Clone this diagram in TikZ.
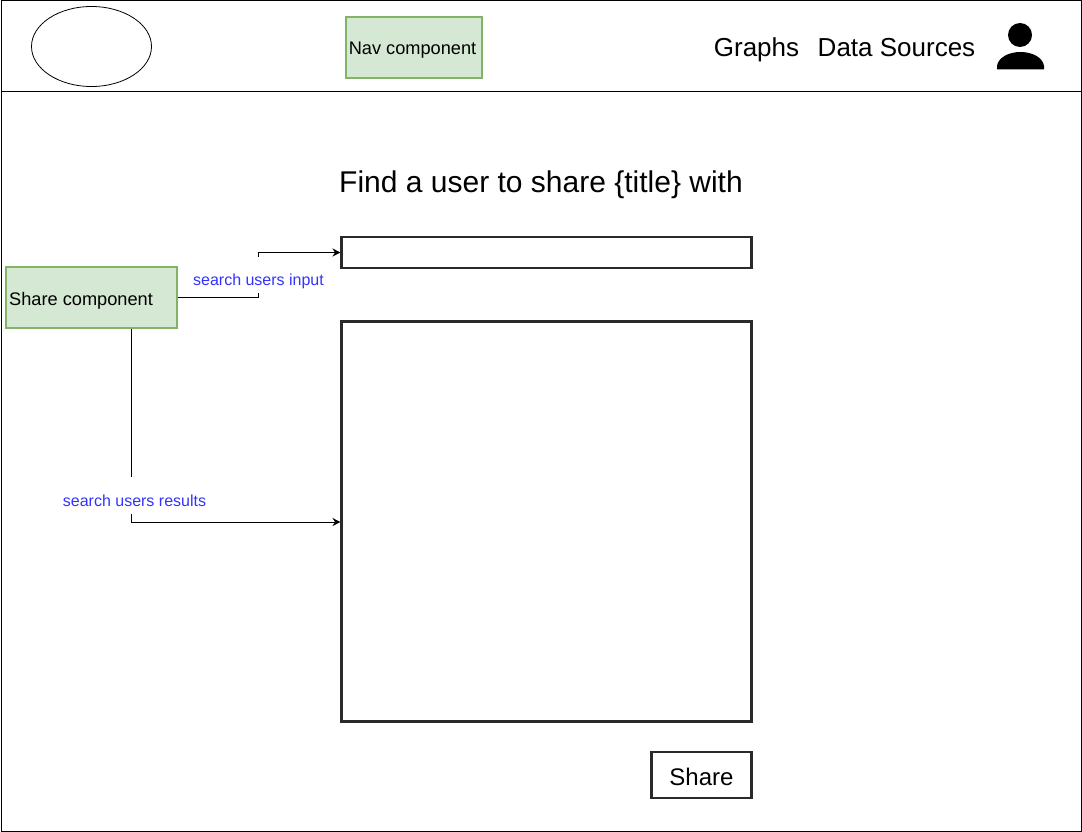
\documentclass[tikz,border=0pt]{standalone}
\usepackage{fontspec}
\setmainfont{Liberation Sans}
\usetikzlibrary{arrows.meta,shapes.geometric}
\definecolor{compfill}{HTML}{D5E8D4}
\definecolor{compline}{HTML}{82B366}
\definecolor{linkblue}{HTML}{3333FF}
\definecolor{boxline}{HTML}{2A2A2A}
\tikzset{
  comp/.style={draw=compline,fill=compfill,line width=2.2pt,rectangle,inner sep=0pt,text=black},
  wire/.style={draw=black,line width=0.85pt,-{Stealth[length=8pt,width=8pt]}},
  wirelabel/.style={anchor=base,fill=white,inner xsep=0pt,inner ysep=0pt,text=linkblue,font=\fontsize{16}{19}\selectfont},
  uibox/.style={draw=boxline,line width=2.05pt,rectangle,inner sep=0pt},
  big/.style={inner sep=0pt,text=black,font=\fontsize{26}{31}\selectfont},
}
\begin{document}
\begin{tikzpicture}[x=1pt,y=-1pt]
\useasboundingbox (0,0) rectangle (1082,832);
\node[draw=black,line width=1pt,minimum width=1080pt,minimum height=830pt,inner sep=0pt] (frame) at (541,416) {};
\coordinate (navleft) at (1,91.5);
\coordinate (navright) at (1081,91.5);
\draw[line width=1pt] (navleft) -- (navright);
\node[draw=black,line width=0.8pt,ellipse,minimum width=120pt,minimum height=80pt,inner sep=0pt] (logo) at (91.5,46.5) {};
\node[comp,minimum width=135.5pt,minimum height=60.5pt] (nav) at (414,47.5) {};
\node[inner sep=0pt,font=\fontsize{18.2}{22}\selectfont,anchor=base] (navtext) at (412.5,55) {Nav component};
\node[big,anchor=base] (graphs) at (756.5,57) {Graphs};
\node[big,anchor=base] (sources) at (896.5,57) {Data Sources};
\fill[black] (1020,35) circle (12);
\fill[black] (997,69.5) -- (997,66) .. controls (998,58) and (1008,52) .. (1020.5,52) .. controls (1033,52) and (1043,58) .. (1044,66) -- (1044,69.5) -- cycle;
\node[inner sep=0pt,anchor=base,text=black,font=\fontsize{30}{36}\selectfont] (title) at (541,193) {Find a user to share \{title\} with};
\node[uibox,minimum width=410pt,minimum height=30.5pt] (input) at (546.5,252.5) {};
\node[uibox,minimum width=410pt,minimum height=400pt] (results) at (546.5,521.5) {};
\node[uibox,minimum width=100pt,minimum height=46pt,font=\fontsize{24}{29}\selectfont] (share) at (701.5,775) {\raisebox{0pt}[20pt][0pt]{Share}};
\node[comp,minimum width=170.5pt,minimum height=60.5pt] (sharecomp) at (91.5,297.5) {};
\node[inner sep=0pt,anchor=base west,font=\fontsize{18.2}{22}\selectfont] (sharetext) at (9,305) {Share component};
\coordinate (bendtop) at (258.5,252.5);
\coordinate (bendres) at (131.5,522);
\draw[wire] (sharecomp.east) -| (bendtop) -- (input.west);
\draw[wire] (sharecomp.south -| bendres) -- (bendres) -- (results.west |- bendres);
\node[wirelabel,text height=28pt,text depth=8pt] (inputlabel) at (258.5,285) {search users input};
\node[wirelabel,text height=29pt,text depth=8pt] (resultslabel) at (134.5,506) {search users results};
\end{tikzpicture}
\end{document}
